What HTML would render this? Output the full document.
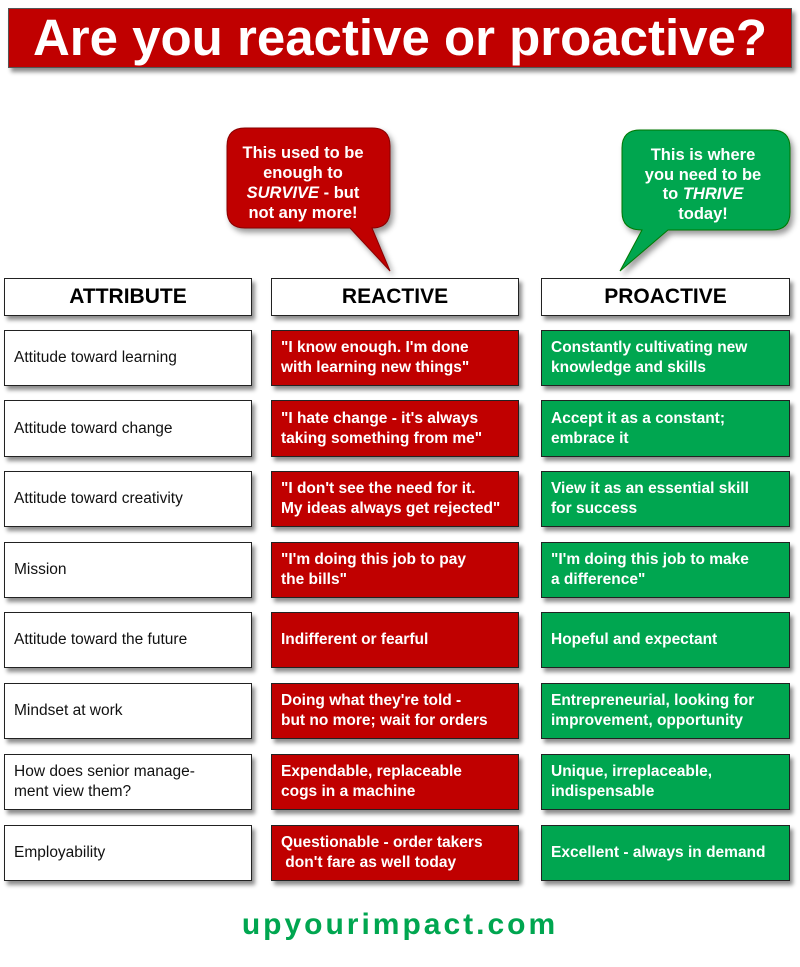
<!DOCTYPE html>
<html><head><style>
body{margin:0;width:800px;height:967px;background:#fff;position:relative;font-family:"Liberation Sans",sans-serif;overflow:hidden}
.b{position:absolute;box-sizing:border-box;border:1.5px solid #222;box-shadow:3px 4px 4px rgba(0,0,0,.45);display:flex;align-items:center;padding-left:9px;font-size:15.5px;line-height:20px}
.w{background:#fff;color:#111}
.r{background:#c00000;color:#fff;font-weight:bold}
.g{background:#00a650;color:#fff;font-weight:bold}
.h{justify-content:center;padding:0;font-weight:bold;font-size:21px;background:#fff}
</style></head><body>
<div class="b r" style="left:8px;top:8px;width:784px;height:60px;font-size:51px;justify-content:center;padding:0;border-color:#555;line-height:60px">Are you reactive or proactive?</div>
<svg style="position:absolute;left:0;top:0" width="800" height="280">
<defs><filter id="s"><feDropShadow dx="3" dy="4" stdDeviation="3" flood-opacity=".4"/></filter></defs>
<path d="M245,128 H372 Q390,128 390,146 V210 Q390,228 372,228 H372 L390,271 L350,228 H245 Q227,228 227,210 V146 Q227,128 245,128Z" fill="#c00000" stroke="#800" filter="url(#s)"/>
<path d="M640,130 H772 Q790,130 790,148 V212 Q790,230 772,230 H668 L620,271 L642,230 Q622,230 622,212 V148 Q622,130 640,130Z" fill="#00a650" stroke="#070" filter="url(#s)"/>
<g fill="#fff" font-weight="bold" font-size="16.5" text-anchor="middle">
<text x="303" y="158">This used to be</text><text x="303" y="178">enough to</text>
<text x="303" y="198"><tspan font-style="italic">SURVIVE</tspan> - but</text><text x="303" y="218">not any more!</text>
<text x="703" y="160">This is where</text><text x="703" y="180">you need to be</text>
<text x="703" y="199">to <tspan font-style="italic">THRIVE</tspan></text><text x="703" y="219">today!</text></g>
</svg>
<div class="b h" style="left:4px;top:278px;width:248px;height:38px">ATTRIBUTE</div>
<div class="b h" style="left:271px;top:278px;width:248px;height:38px">REACTIVE</div>
<div class="b h" style="left:541px;top:278px;width:249px;height:38px">PROACTIVE</div>

<div class="b w" style="left:4px;top:330px;width:248px;height:56px">Attitude toward learning</div>
<div class="b r" style="left:271px;top:330px;width:248px;height:56px">"I know enough. I'm done<br>with learning new things"</div>
<div class="b g" style="left:541px;top:330px;width:249px;height:56px">Constantly cultivating new<br>knowledge and skills</div>

<div class="b w" style="left:4px;top:400px;width:248px;height:57px">Attitude toward change</div>
<div class="b r" style="left:271px;top:400px;width:248px;height:57px">"I hate change - it's always<br>taking something from me"</div>
<div class="b g" style="left:541px;top:400px;width:249px;height:57px">Accept it as a constant;<br>embrace it</div>

<div class="b w" style="left:4px;top:471px;width:248px;height:56px">Attitude toward creativity</div>
<div class="b r" style="left:271px;top:471px;width:248px;height:56px">"I don't see the need for it.<br>My ideas always get rejected"</div>
<div class="b g" style="left:541px;top:471px;width:249px;height:56px">View it as an essential skill<br>for success</div>

<div class="b w" style="left:4px;top:542px;width:248px;height:56px">Mission</div>
<div class="b r" style="left:271px;top:542px;width:248px;height:56px">"I'm doing this job to pay<br>the bills"</div>
<div class="b g" style="left:541px;top:542px;width:249px;height:56px">"I'm doing this job to make<br>a difference"</div>

<div class="b w" style="left:4px;top:612px;width:248px;height:56px">Attitude toward the future</div>
<div class="b r" style="left:271px;top:612px;width:248px;height:56px">Indifferent or fearful</div>
<div class="b g" style="left:541px;top:612px;width:249px;height:56px">Hopeful and expectant</div>

<div class="b w" style="left:4px;top:683px;width:248px;height:56px">Mindset at work</div>
<div class="b r" style="left:271px;top:683px;width:248px;height:56px">Doing what they're told -<br>but no more; wait for orders</div>
<div class="b g" style="left:541px;top:683px;width:249px;height:56px">Entrepreneurial, looking for<br>improvement, opportunity</div>

<div class="b w" style="left:4px;top:754px;width:248px;height:56px">How does senior manage-<br>ment view them?</div>
<div class="b r" style="left:271px;top:754px;width:248px;height:56px">Expendable, replaceable<br>cogs in a machine</div>
<div class="b g" style="left:541px;top:754px;width:249px;height:56px">Unique, irreplaceable,<br>indispensable</div>

<div class="b w" style="left:4px;top:825px;width:248px;height:56px">Employability</div>
<div class="b r" style="left:271px;top:825px;width:248px;height:56px">Questionable - order takers<br>&nbsp;don't fare as well today</div>
<div class="b g" style="left:541px;top:825px;width:249px;height:56px">Excellent - always in demand</div>

<div style="position:absolute;left:0;width:800px;top:908px;text-align:center;color:#00a650;font-weight:bold;font-size:30px;letter-spacing:3px">upyourimpact.com</div>
</body></html>
